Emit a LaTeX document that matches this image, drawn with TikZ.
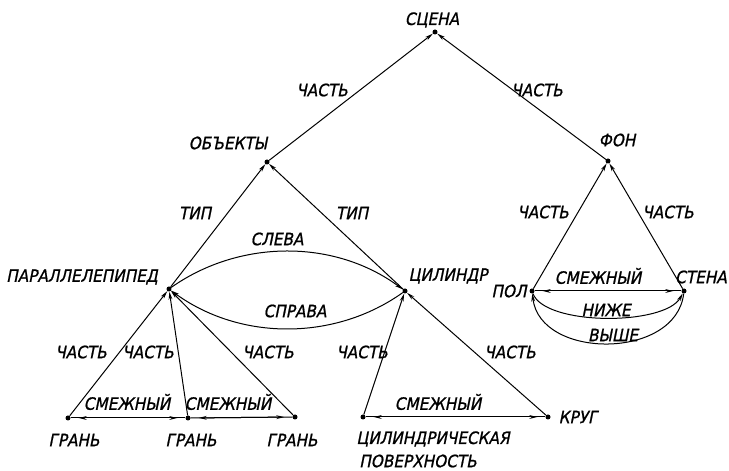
\documentclass[tikz,border=0pt]{standalone}
\usepackage{fontspec}
\newfontfamily\lab{DejaVu Sans Condensed}[FakeSlant=0.2,FakeBold=1]
\usetikzlibrary{arrows.meta}
\begin{document}
\begin{tikzpicture}[x=1pt,y=1pt,
  dot/.style={circle,fill,inner sep=0pt,minimum size=5pt},
  txt/.style={font=\lab\fontsize{17}{20}\selectfont,inner sep=0pt},
  arr/.style={line width=1pt,-{Stealth[length=8pt,width=3.8pt]}},
  ln/.style={line width=1pt},
  dbl/.style={line width=1pt,{Stealth[length=8pt,width=3.8pt]}-{Stealth[length=8pt,width=3.8pt]},shorten <=8pt,shorten >=8pt}
]
\fill[white] (0,0) rectangle (729,471);
\useasboundingbox (0,0) rectangle (729,471);
% points
\node[dot] (scena) at (435,439) {};
\node[dot] (obj) at (267,309) {};
\node[dot] (fon) at (608,310) {};
\node[dot] (par) at (169,182) {};
\node[dot] (cyl) at (405,180) {};
\node[dot] (pol) at (532,180) {};
\node[dot] (stena) at (684,180) {};
\node[dot] (g1) at (68,53) {};
\node[dot] (g2) at (188,53) {};
\node[dot] (g3) at (295,54) {};
\node[dot] (cp) at (363,54) {};
\node[dot] (krug) at (548,54) {};
% node labels
\node[txt] (lscena) at (432,451) {СЦЕНА};
\node[txt] (lobj) at (228,328) {ОБЪЕКТЫ};
\node[txt] (lfon) at (617,331) {ФОН};
\node[txt] (lpar) at (82,194) {ПАРАЛЛЕЛЕПИПЕД};
\node[txt] (lcyl) at (448,195) {ЦИЛИНДР};
\node[txt] (lpol) at (509,180) {ПОЛ};
\node[txt,anchor=east] (lstena) at (727,194) {СТЕНА};
\node[txt] (lg1) at (74,31) {ГРАНЬ};
\node[txt] (lg2) at (191,31) {ГРАНЬ};
\node[txt] (lg3) at (292,31) {ГРАНЬ};
\node[txt] (lcp1) at (433,32) {ЦИЛИНДРИЧЕСКАЯ};
\node[txt] (lcp2) at (418,10) {ПОВЕРХНОСТЬ};
\node[txt] (lkrug) at (578,54) {КРУГ};
% edges
\draw[arr] (obj) -- (scena);
\draw[arr] (fon) -- (scena);
\draw[arr] (par) -- (obj);
\draw[arr] (cyl) -- (obj);
\draw[arr] (par) .. controls (240,232) and (335,232) .. (cyl);
\draw[arr] (cyl) .. controls (335,130) and (240,130) .. (par);
\draw[arr] (pol) -- (fon);
\draw[arr] (stena) -- (fon);
\draw[ln] (pol) -- (stena);
\draw[dbl] (pol) -- (stena);
\draw[arr] (pol) .. controls (545,145) and (665,145) .. (stena);
\draw[arr] (stena) .. controls (676,111) and (540,111) .. (pol);
\draw[arr] (g1) -- (par);
\draw[arr] (g2) -- (par);
\draw[arr] (g3) -- (par);
\draw[ln] (g1) -- (g2);
\draw[dbl] (g1) -- (g2);
\draw[ln] (g2) -- (g3);
\draw[dbl] (g2) -- (g3);
\draw[arr] (cp) -- (cyl);
\draw[arr] (krug) -- (cyl);
\draw[ln] (cp) -- (krug);
\draw[dbl] (cp) -- (krug);
% edge labels
\node[txt] (e1) at (322,381) {ЧАСТЬ};
\node[txt] (e2) at (537,381) {ЧАСТЬ};
\node[txt] (e3) at (195,258) {ТИП};
\node[txt] (e4) at (352,258) {ТИП};
\node[txt] (e5) at (277,232) {СЛЕВА};
\node[txt] (e6) at (295,160) {СПРАВА};
\node[txt] (e7) at (543,259) {ЧАСТЬ};
\node[txt] (e8) at (668,259) {ЧАСТЬ};
\node[txt] (e9) at (598,195) {СМЕЖНЫЙ};
\node[txt] (e10) at (606,161) {НИЖЕ};
\node[txt] (e11) at (613,136) {ВЫШЕ};
\node[txt] (e12) at (81,119) {ЧАСТЬ};
\node[txt] (e13) at (148,119) {ЧАСТЬ};
\node[txt] (e14) at (268,119) {ЧАСТЬ};
\node[txt] (e15) at (362,119) {ЧАСТЬ};
\node[txt] (e16) at (510,119) {ЧАСТЬ};
\node[txt] (e17) at (127,69) {СМЕЖНЫЙ};
\node[txt] (e18) at (228,69) {СМЕЖНЫЙ};
\node[txt] (e19) at (438,69) {СМЕЖНЫЙ};
\end{tikzpicture}
\end{document}
